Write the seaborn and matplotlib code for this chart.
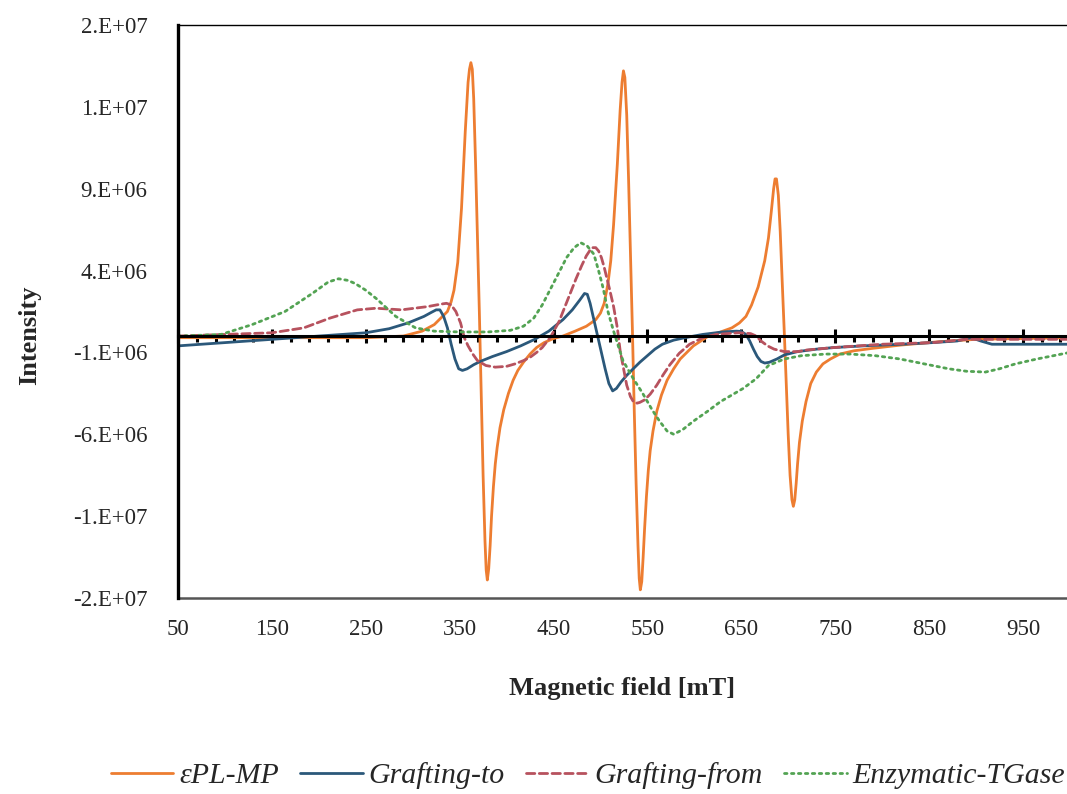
import numpy as np
import pandas as pd
import seaborn as sns
import matplotlib.pyplot as plt
from matplotlib.ticker import MultipleLocator

# EPR spectra, intensity in units of 1e6
epl_x = [50, 100, 150, 200, 250, 290, 310, 323, 337, 341, 344, 348, 352, 356, 359, 360.5, 362, 363.5, 365,
         367, 369, 371, 373, 375, 377, 378.3, 379.5, 381, 382.5, 384, 386, 388, 390, 393, 397, 402, 407,
         412, 418, 425, 432, 440, 450, 460, 473, 485, 495, 500, 504, 508, 511, 514, 518, 521, 523, 524.5,
         526, 528, 530, 532, 534, 536, 538, 540, 541.3, 542.5, 544, 545.5, 547, 549, 551, 553, 556, 560,
         565, 571, 578, 585, 592, 599, 607, 615, 628, 640, 648, 655, 661, 668, 675, 679, 682, 684.5, 686,
         687.5, 689.5, 691.5, 693.5, 696, 698, 700, 702, 704, 705.5, 707, 708.5, 710, 712, 715, 719, 724,
         730, 737, 745, 755, 770, 790, 820, 860, 900, 1000]
epl_y = [-0.1, -0.1, -0.1, -0.1, -0.1, 0.0, 0.3, 0.7, 1.5, 2.1, 2.8, 4.5, 7.8, 12.5, 15.5, 16.3, 16.7, 16.3, 14.5,
         10.5, 6.0, 1.5, -3.5, -8.5, -12.5, -14.3, -14.9, -14.2, -12.8, -11.0, -9.2, -7.8, -6.8, -5.6, -4.5, -3.5, -2.7,
         -2.1, -1.6, -1.1, -0.7, -0.4, -0.15, 0.0, 0.3, 0.6, 1.0, 1.4, 2.0, 3.2, 4.6, 6.8, 10.5, 13.8, 15.5, 16.2,
         15.8, 13.5, 9.5, 5.0, 0.5, -4.5, -9.0, -12.8, -14.8, -15.5, -15.0, -13.5, -11.8, -9.8, -8.2, -7.0, -5.8, -4.6,
         -3.6, -2.7, -2.0, -1.4, -1.0, -0.6, -0.3, 0.0, 0.25, 0.5, 0.8, 1.2, 1.9, 3.0, 4.6, 6.0, 7.6, 9.0, 9.6,
         9.6, 8.6, 6.4, 3.5, 0.0, -3.0, -6.0, -8.5, -10.0, -10.4, -10.0, -9.0, -7.8, -6.5, -5.2, -4.0, -2.9,
         -2.2, -1.7, -1.4, -1.1, -0.9, -0.75, -0.55, -0.35, -0.2, -0.1]

gto_x = [50, 100, 150, 200, 250, 275, 295, 312, 320, 325, 329, 333, 337, 341, 345, 349, 353, 358, 365, 372,
         385, 400, 415, 430, 445, 460, 470, 478, 483, 486, 489, 493, 497, 501, 505, 509, 513, 517, 522, 528,
         534, 542, 550, 558, 566, 578, 590, 609, 630, 645, 650, 655, 659, 663, 667, 671, 675, 680, 688,
         696, 710, 730, 749, 780, 820, 854, 880, 895, 905, 917, 950, 1000]
gto_y = [-0.6, -0.4, -0.2, 0.0, 0.2, 0.45, 0.8, 1.2, 1.45, 1.6, 1.6, 1.2, 0.5, -0.5, -1.4, -2.0, -2.1, -2.0, -1.75, -1.55,
         -1.25, -0.95, -0.6, -0.2, 0.3, 1.0, 1.6, 2.2, 2.6, 2.55, 2.0, 1.0, 0.0, -1.0, -2.0, -2.9, -3.35, -3.2, -2.8, -2.4,
         -2.05, -1.6, -1.2, -0.8, -0.5, -0.25, -0.1, 0.1, 0.25, 0.3, 0.28, 0.1, -0.3, -0.8, -1.25, -1.55, -1.65, -1.6, -1.4,
         -1.15, -0.95, -0.8, -0.7, -0.6, -0.5, -0.4, -0.3, -0.1, -0.3, -0.5, -0.5, -0.5]

gfrom_x = [50, 100, 150, 184, 212, 241, 261, 288, 316, 330, 336, 341, 346, 351, 355, 359, 364, 369, 378, 388,
           400, 409, 418, 425, 432, 438, 447, 456, 465, 474, 480, 485, 489, 492, 495, 498, 501, 504, 507, 510,
           514, 518, 521, 525, 528, 532, 535, 539, 542, 547, 553, 560, 567, 574, 584, 595, 609, 623, 647, 660,
           666, 671, 678, 685, 696, 710, 720, 749, 800, 854, 890, 950, 1000]
gfrom_y = [0.0, 0.1, 0.2, 0.5, 1.1, 1.6, 1.7, 1.6, 1.8, 1.95, 2.0, 1.9, 1.5, 0.8, -0.1, -0.6, -1.1, -1.5, -1.8, -1.9,
           -1.85, -1.7, -1.5, -1.3, -1.0, -0.7, -0.05, 0.9, 2.2, 3.5, 4.3, 4.9, 5.25, 5.4, 5.4, 5.2, 4.8, 4.2, 3.5, 2.8,
           1.8, 0.5, -0.9, -2.1, -3.0, -3.7, -4.0, -4.1, -4.05, -3.9, -3.55, -3.0, -2.35, -1.75, -1.05, -0.5, -0.1, 0.1, 0.2, 0.15,
           0.0, -0.3, -0.6, -0.8, -0.95, -0.95, -0.85, -0.7, -0.5, -0.4, -0.2, -0.2, -0.2]

tg_x = [50, 75, 96, 129, 164, 193, 210, 221, 231, 239, 250, 261, 282, 303, 323, 350, 380, 404, 418, 429,
        438, 447, 456, 464, 472, 479, 486, 493, 498, 503, 508, 514, 524, 535, 545, 555, 563, 571, 578, 588,
        599, 614, 628, 652, 666, 679, 696, 714, 740, 766, 793, 819, 845, 871, 890, 910, 925, 942, 965, 1000]
tg_y = [0.0, 0.05, 0.1, 0.7, 1.5, 2.6, 3.3, 3.5, 3.4, 3.2, 2.8, 2.3, 1.2, 0.5, 0.3, 0.25, 0.25, 0.35, 0.6, 1.1,
        1.9, 2.9, 3.9, 4.8, 5.4, 5.7, 5.5, 5.0, 4.0, 2.9, 1.5, 0.3, -1.5, -2.6, -3.5, -4.5, -5.2, -5.8, -6.0, -5.7,
        -5.2, -4.6, -4.0, -3.2, -2.6, -1.8, -1.4, -1.2, -1.1, -1.1, -1.2, -1.4, -1.7, -2.0, -2.15, -2.2, -2.0, -1.7, -1.4, -1.0]

y_ticks = [-1.6e7, -1.1e7, -6e6, -1e6, 4e6, 9e6, 1.4e7, 1.9e7]
y_labels = ['-2.E+07', '-1.E+07', '-6.E+06', '-1.E+06', '4.E+06', '9.E+06', '1.E+07', '2.E+07']
x_ticks = [50, 150, 250, 350, 450, 550, 650, 750, 850, 950]

series = [
    ('εPL-MP', epl_x, epl_y, '#ED7D31', '-'),
    ('Grafting-to', gto_x, gto_y, '#2B587A', '-'),
    ('Grafting-from', gfrom_x, gfrom_y, '#B7525E', (0, (3, 1.6))),
    ('Enzymatic-TGase', tg_x, tg_y, '#53A353', (0, (0.9, 1.6))),
]

sns.set_style('white')
plt.rcParams['font.family'] = ['Liberation Serif', 'DejaVu Serif']

fig = plt.figure(figsize=(10.67, 7.94), dpi=100)
ax = fig.add_axes([178 / 1067, 1 - 598 / 794, 1 - 178 / 1067, (598 - 25) / 794])

for name, xs, ys, col, ls in series:
    df = pd.DataFrame({'field': xs, 'intensity': np.array(ys) * 1e6})
    sns.lineplot(data=df, x='field', y='intensity', ax=ax, color=col, linestyle=ls,
                 linewidth=2.0, label=name, estimator=None, sort=False,
                 dash_capstyle='round', solid_capstyle='round', solid_joinstyle='round')

ax.set_xlim(50, 997)
ax.set_ylim(-1.6e7, 1.9e7)
ax.set_yticks(y_ticks)
ax.set_yticklabels(y_labels)
ax.tick_params(axis='y', length=0, pad=22, labelsize=16.5)

# horizontal axis crossing at zero, labels kept at the bottom
ax.spines['bottom'].set_position(('data', 0))
ax.spines['bottom'].set_linewidth(2.2)
ax.spines['bottom'].set_color('black')
ax.xaxis.set_major_locator(MultipleLocator(100, offset=50))
ax.xaxis.set_minor_locator(MultipleLocator(20, offset=10))
ax.tick_params(axis='x', which='major', bottom=True, direction='inout', length=10, width=2.2,
               color='black', labelbottom=False)
ax.tick_params(axis='x', which='minor', bottom=True, direction='out', length=4.5, width=2.2, color='black')
ax.spines['left'].set_linewidth(2.4)
ax.spines['left'].set_color('black')
ax.spines['top'].set_linewidth(1.0)
ax.spines['top'].set_color('black')
ax.spines['right'].set_visible(False)
ax.set_xlabel('')
ax.set_ylabel('')

sec = ax.secondary_xaxis(0.0)
sec.set_xticks(x_ticks)
sec.set_xticklabels([str(v) for v in x_ticks])
sec.xaxis.set_minor_locator(MultipleLocator(1000))
sec.tick_params(axis='x', which='both', length=0, pad=15, labelsize=16.5)
sec.spines['bottom'].set_color('#555555')
sec.spines['bottom'].set_linewidth(1.8)

fig.text(622 / 1067, 1 - 688 / 794, 'Magnetic field [mT]', ha='center', va='center',
         fontsize=19, fontweight='bold')
fig.text(30 / 1067, 1 - 335 / 794, 'Intensity', ha='center', va='center',
         fontsize=19, fontweight='bold', rotation=90)

ax.get_legend().remove()
handles, labels = ax.get_legend_handles_labels()
leg = fig.legend(handles, labels, loc='center', bbox_to_anchor=(588 / 1067, 1 - 776 / 794),
                 ncol=4, frameon=False, handlelength=2.1, handletextpad=0.2, columnspacing=0.7,
                 prop={'size': 21.5, 'style': 'italic'})

fig.savefig('out.png', dpi=100)
